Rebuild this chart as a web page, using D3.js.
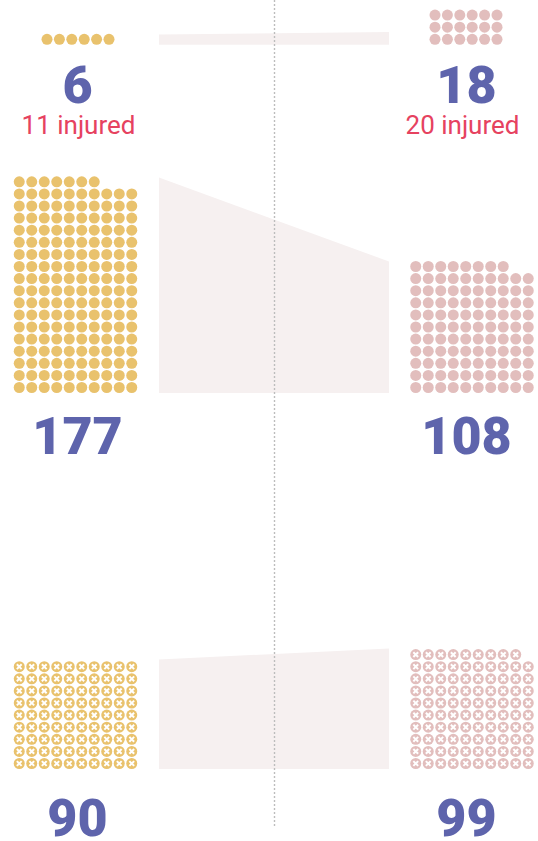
<!DOCTYPE html>
<html>
<head>
<meta charset="utf-8">
<script src="https://cdn.jsdelivr.net/npm/d3@7"></script>
<style>
  html, body { margin: 0; padding: 0; background: #fff; }
  svg { display: block; }
</style>
</head>
<body>
<div id="chart"></div>
<script>
// ---- data ----
const sections = ["first", "second", "third"];
const leftValues = [6, 177, 90];
const rightValues = [18, 108, 99];
const leftInjured = [11, null, null];
const rightInjured = [20, null, null];
const markTypes = ["dot", "dot", "cross"];
const gridColumns = [6, 10, 10];
const injuredLabel = "injured";

// ---- layout ----
const W = 538, H = 841;
const colors = { left: "#e9c26d", right: "#e2bebd", number: "#5e64ac", injured: "#e6425f", band: "#f6f0f0", rule: "#bdbdbd" };
const baselines = [39.3, 387.5, 763.5];      // centre of bottom row per section
const labelY = [103, 454, 835.5];
const injuredY = 134;
const labelX = { left: 77.5, right: 466.5 };
const gridCenterX = { 6: { left: 78, right: 466 }, 10: { left: 75.5, right: 472 } };
const dx = { 6: 12.4, 10: 12.5 }, dy = 12.1, r = 5.5;
const bandX0 = 159, bandX1 = 389;

// band height scales
const bandScale = d3.scaleLinear().domain([0, 177]).range([0, 215.5]);
const bandScaleTop = d3.scaleLinear().domain([6, 18]).range([10.4, 12.8]);

const svg = d3.select("#chart").append("svg").attr("width", W).attr("height", H);

// vertical dotted rule
svg.append("line")
  .attr("x1", 274.5).attr("x2", 274.5).attr("y1", 0).attr("y2", 827)
  .attr("stroke", colors.rule).attr("stroke-width", 1.4).attr("stroke-dasharray", "2,2");

sections.forEach((s, i) => {
  const base = baselines[i];
  const bottom = base + r;
  const sc = i === 0 ? bandScaleTop : bandScale;
  const hL = sc(leftValues[i]), hR = sc(rightValues[i]);
  svg.insert("path", "line")
    .attr("d", d3.line()([[bandX0, bottom - hL], [bandX1, bottom - hR], [bandX1, bottom], [bandX0, bottom]]) + "Z")
    .attr("fill", colors.band);

  ["left", "right"].forEach(side => {
    const v = side === "left" ? leftValues[i] : rightValues[i];
    const cols = gridColumns[i];
    const cx = gridCenterX[cols][side];
    const xs = d3.scaleLinear().domain([0, cols - 1]).range([cx - dx[cols] * (cols - 1) / 2, cx + dx[cols] * (cols - 1) / 2]);
    const ys = d3.scaleLinear().domain([0, 1]).range([base, base - dy]);
    const pts = d3.range(v).map(k => ({ c: k % cols, row: Math.floor(k / cols) }));
    const g = svg.append("g");
    const m = g.selectAll("g.m").data(pts).join("g").attr("class", "m")
      .attr("transform", d => `translate(${xs(d.c)},${ys(d.row)})`);
    m.append("circle").attr("r", r).attr("fill", colors[side]);
    if (markTypes[i] === "cross") {
      const a = 2.4;
      m.append("path").attr("d", `M${-a},${-a}L${a},${a}M${-a},${a}L${a},${-a}`)
        .attr("stroke", "#fff").attr("stroke-width", 2).attr("stroke-linecap", "butt");
    }
    svg.append("text")
      .attr("x", labelX[side]).attr("y", labelY[i])
      .attr("text-anchor", "middle")
      .attr("font-family", "Roboto, sans-serif").attr("font-weight", 900).attr("font-size", 52)
      .attr("fill", colors.number)
      .text(v);
    const inj = side === "left" ? leftInjured[i] : rightInjured[i];
    if (inj != null) {
      svg.append("text")
        .attr("x", side === "left" ? 78.5 : 462.5).attr("y", injuredY)
        .attr("text-anchor", "middle")
        .attr("font-family", "Roboto, sans-serif").attr("font-weight", 400).attr("font-size", 26)
        .attr("fill", colors.injured)
        .text(`${inj} ${injuredLabel}`);
    }
  });
});
</script>
</body>
</html>
